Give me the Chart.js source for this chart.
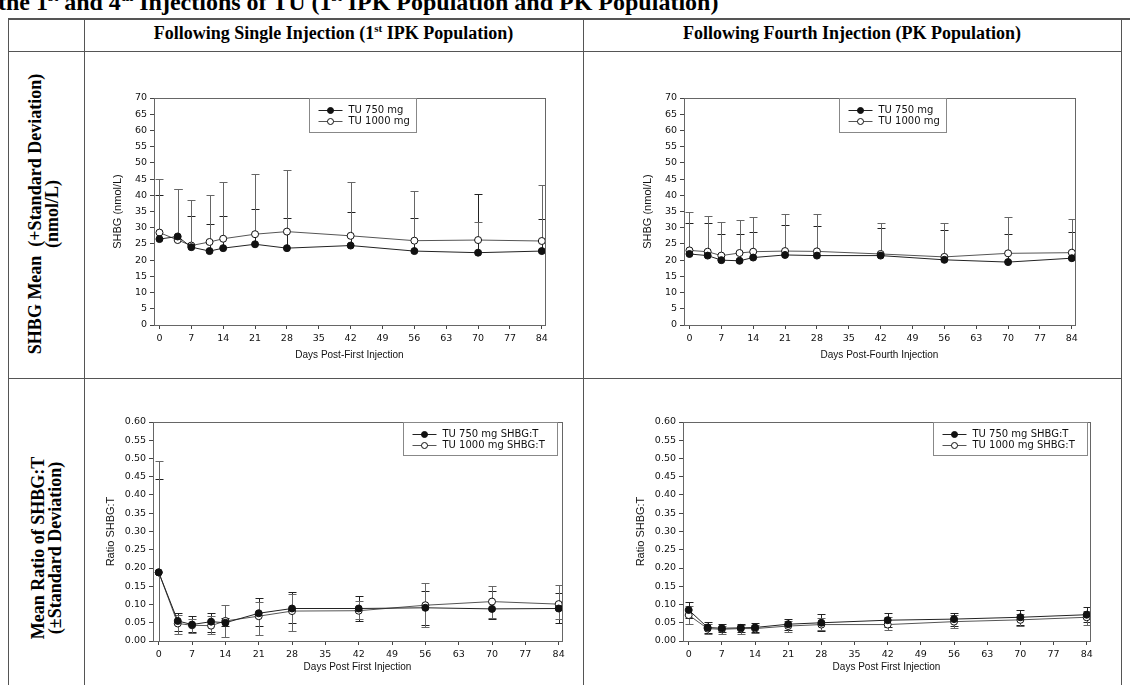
<!DOCTYPE html>
<html>
<head>
<meta charset="utf-8">
<script src="https://cdn.jsdelivr.net/npm/chart.js@4.4.0/dist/chart.umd.min.js"></script>
<style>
  body { margin: 0; width: 1130px; height: 685px; overflow: hidden; background: #fff; position: relative; font-family: "Liberation Serif", serif; color: #000; }
  .title { position: absolute; left: -2px; top: -10px; font-weight: bold; font-size: 24px; line-height: 24px; white-space: nowrap; }
  .title sup { font-size: 14px; vertical-align: 9px; }
  .line { position: absolute; background: #555; }
  .head { position: absolute; top: 24px; font-weight: bold; font-size: 18px; line-height: 18px; text-align: center; white-space: nowrap; }
  .rowlab { position: absolute; font-weight: bold; font-size: 18px; line-height: 17px; text-align: center; white-space: nowrap; transform: translate(-50%, -50%) rotate(-90deg); }
  sup { font-size: 11px; line-height: 0; vertical-align: 7px; }
  canvas { position: absolute; }
</style>
</head>
<body>
<div class="title">the 1<sup>st</sup> and 4<sup>th</sup> Injections of TU (1<sup>st</sup> IPK Population and PK Population)</div>

<div class="line" style="left:8px; top:18px; width:1122px; height:2px;"></div>
<div class="line" style="left:8px; top:51px; width:1114px; height:1px;"></div>
<div class="line" style="left:8px; top:378px; width:1114px; height:1px;"></div>
<div class="line" style="left:8px; top:18px; width:1px; height:667px;"></div>
<div class="line" style="left:84px; top:18px; width:1px; height:667px;"></div>
<div class="line" style="left:583px; top:18px; width:1px; height:667px;"></div>
<div class="line" style="left:1121px; top:18px; width:1px; height:667px;"></div>

<div class="head" style="left:84px; width:499px;">Following Single Injection (1<sup>st</sup> IPK Population)</div>
<div class="head" style="left:583px; width:538px;">Following Fourth Injection (PK Population)</div>

<div class="rowlab" style="left:44px; top:214px;">SHBG Mean&nbsp; (+Standard Deviation)<br>(nmol/L)</div>
<div class="rowlab" style="left:47px; top:548px;">Mean Ratio of SHBG:T<br>(±Standard Deviation)</div>

<canvas id="c1"></canvas>
<canvas id="c2"></canvas>
<canvas id="c3"></canvas>
<canvas id="c4"></canvas>

<script>
// sampling days (same for every panel)
const days = [0, 4, 7, 11, 14, 21, 28, 42, 56, 70, 84];
const xTicks = [0, 7, 14, 21, 28, 35, 42, 49, 56, 63, 70, 77, 84];
const shbgTicks = [0, 5, 10, 15, 20, 25, 30, 35, 40, 45, 50, 55, 60, 65, 70];
const ratioTicks = [0, 0.05, 0.1, 0.15, 0.2, 0.25, 0.3, 0.35, 0.4, 0.45, 0.5, 0.55, 0.6];

// SHBG after single injection (nmol/L), mean and mean+SD
const shbg1Mean750 = [26.5, 27.3, 24.0, 22.8, 23.7, 24.9, 23.7, 24.5, 22.8, 22.3, 22.8];
const shbg1Mean1000 = [28.5, 26.2, 24.5, 25.6, 26.6, 28.0, 28.8, 27.5, 26.0, 26.2, 25.9];
const shbg1Hi750 = [40.0, 41.8, 33.7, 31.0, 33.5, 35.8, 33.0, 34.7, 33.0, 40.3, 32.8];
const shbg1Hi1000 = [45.0, 42.0, 38.5, 40.2, 44.2, 46.7, 47.9, 44.2, 41.4, 31.9, 43.2];

// SHBG after fourth injection
const shbg4Mean750 = [21.9, 21.4, 20.0, 19.8, 20.8, 21.6, 21.4, 21.4, 20.1, 19.4, 20.6];
const shbg4Mean1000 = [23.0, 22.6, 21.4, 22.2, 22.6, 22.8, 22.7, 21.9, 21.0, 22.1, 22.3];
const shbg4Hi750 = [31.5, 31.3, 28.0, 28.0, 28.8, 30.7, 30.6, 29.9, 29.2, 28.0, 28.8];
const shbg4Hi1000 = [34.7, 33.7, 31.9, 32.4, 33.3, 34.1, 34.1, 31.6, 31.3, 33.4, 32.8];

// SHBG:T ratio after single injection, mean and mean±SD
const ratio1Mean750 = [0.188, 0.055, 0.045, 0.053, 0.050, 0.076, 0.089, 0.089, 0.091, 0.088, 0.089];
const ratio1Mean1000 = [0.188, 0.048, 0.043, 0.042, 0.055, 0.068, 0.082, 0.083, 0.098, 0.108, 0.101];
const ratio1Hi750 = [0.445, 0.078, 0.068, 0.077, 0.062, 0.117, 0.134, 0.123, 0.137, 0.137, 0.131];
const ratio1Lo750 = [-0.069, 0.028, 0.025, 0.025, 0.040, 0.041, 0.050, 0.055, 0.045, 0.059, 0.050];
const ratio1Hi1000 = [0.494, 0.070, 0.060, 0.068, 0.099, 0.106, 0.130, 0.109, 0.158, 0.152, 0.154];
const ratio1Lo1000 = [-0.118, 0.019, 0.022, 0.020, 0.012, 0.016, 0.028, 0.060, 0.039, 0.064, 0.059];

// SHBG:T ratio after fourth injection
const ratio4Mean750 = [0.085, 0.037, 0.035, 0.036, 0.037, 0.046, 0.050, 0.057, 0.060, 0.065, 0.072];
const ratio4Mean1000 = [0.071, 0.034, 0.032, 0.034, 0.034, 0.041, 0.045, 0.045, 0.053, 0.058, 0.065];
const ratio4Hi750 = [0.108, 0.051, 0.046, 0.046, 0.048, 0.061, 0.073, 0.077, 0.078, 0.085, 0.092];
const ratio4Lo750 = [0.062, 0.023, 0.024, 0.026, 0.026, 0.031, 0.027, 0.037, 0.042, 0.045, 0.052];
const ratio4Hi1000 = [0.095, 0.046, 0.042, 0.044, 0.045, 0.054, 0.062, 0.065, 0.070, 0.075, 0.082];
const ratio4Lo1000 = [0.047, 0.019, 0.018, 0.020, 0.021, 0.025, 0.030, 0.031, 0.035, 0.040, 0.045];

const tickFont = { family: "DejaVu Sans", size: 9.5 };
const xTitleFont = { family: "Liberation Sans", size: 10 };
const yTitleFont = { family: "Liberation Sans", size: 11 };
const axisColor = "#444";

const frame = {
  id: "frame",
  beforeDatasetsDraw(chart) {
    const { ctx, chartArea: a } = chart;
    ctx.save();
    ctx.strokeStyle = "#666";
    ctx.lineWidth = 1;
    ctx.strokeRect(Math.round(a.left) + 0.5, Math.round(a.top) + 0.5, Math.round(a.width), Math.round(a.height));
    ctx.restore();
  },
};

const errorBars = {
  id: "errorBars",
  beforeDatasetsDraw(chart) {
    const { ctx, chartArea: a, scales: { x, y } } = chart;
    ctx.save();
    ctx.beginPath();
    ctx.rect(a.left, a.top - 2, a.width, a.height + 2);
    ctx.clip();
    ctx.lineWidth = 1;
    chart.data.datasets.forEach((ds) => {
      ctx.strokeStyle = ds.errColor;
      ds.data.forEach((p, i) => {
        const px = Math.round(x.getPixelForValue(p.x)) + 0.5;
        const py = y.getPixelForValue(p.y);
        [ds.errHi, ds.errLo].forEach((arr) => {
          if (!arr) return;
          const ey = Math.round(y.getPixelForValue(arr[i])) + 0.5;
          ctx.beginPath();
          ctx.moveTo(px, py);
          ctx.lineTo(px, ey);
          ctx.moveTo(px - 4, ey);
          ctx.lineTo(px + 4, ey);
          ctx.stroke();
        });
      });
    });
    ctx.restore();
  },
};

const boxLegend = {
  id: "boxLegend",
  afterDraw(chart, args, opts) {
    const { ctx, chartArea: a } = chart;
    const x0 = Math.round(a.left + opts.offsetX) + 0.5;
    const y0 = Math.round(a.top) + 0.5;
    ctx.save();
    ctx.fillStyle = "#fff";
    ctx.fillRect(x0, y0, opts.width, opts.height);
    ctx.strokeStyle = "#888";
    ctx.lineWidth = 1;
    ctx.strokeRect(x0, y0, opts.width, opts.height);
    chart.data.datasets.forEach((ds, i) => {
      const ly = Math.round(y0 + 11 + i * 11) + 0.5;
      ctx.strokeStyle = ds.borderColor;
      ctx.beginPath();
      ctx.moveTo(x0 + 9, ly);
      ctx.lineTo(x0 + 33, ly);
      ctx.stroke();
      ctx.beginPath();
      ctx.arc(x0 + 21, ly, 3, 0, Math.PI * 2);
      ctx.fillStyle = ds.pointBackgroundColor;
      ctx.fill();
      ctx.strokeStyle = ds.pointBorderColor;
      ctx.stroke();
      ctx.fillStyle = "#111";
      ctx.font = '10px "DejaVu Sans"';
      ctx.textBaseline = "middle";
      ctx.fillText(ds.label, x0 + 39, ly);
    });
    ctx.restore();
  },
};

const series = (label, means, hi, lo, filled) => ({
  label: label,
  data: days.map((d, i) => ({ x: d, y: means[i] })),
  errHi: hi,
  errLo: lo,
  errColor: filled ? "#222" : "#666",
  borderColor: filled ? "#222" : "#555",
  borderWidth: 1,
  pointRadius: 3.5,
  pointBorderWidth: 1,
  pointBackgroundColor: filled ? "#111" : "#fff",
  pointBorderColor: "#111",
  tension: 0,
});

// plot: chart area rectangle on the page; yW / xH: axis band sizes
const makeChart = (id, plot, yW, xH, yTicks, yMax, yTitle, xTitle, fmt, legend, datasets) => {
  const padTop = 20;
  const padRight = 20;
  const left = plot.L - yW;
  const top = plot.T - padTop;
  const width = plot.R + padRight - left;
  const height = plot.B + xH - top;
  const el = document.getElementById(id);
  el.style.left = left + "px";
  el.style.top = top + "px";
  el.style.width = width + "px";
  el.style.height = height + "px";
  el.width = width;
  el.height = height;

  new Chart(el.getContext("2d"), {
    type: "line",
    data: { datasets: datasets },
    options: {
      responsive: false,
      animation: false,
      devicePixelRatio: 1,
      layout: { padding: { top: padTop, right: padRight, left: 0, bottom: 0 } },
      plugins: {
        legend: { display: false },
        tooltip: { enabled: false },
        boxLegend: legend,
      },
      scales: {
        x: {
          type: "linear",
          min: -1.2,
          max: 84.7,
          afterBuildTicks: (s) => { s.ticks = xTicks.map((v) => ({ value: v })); },
          afterFit: (s) => { s.height = xH; },
          grid: { drawOnChartArea: false, drawTicks: true, tickLength: 4, color: axisColor },
          border: { display: true, color: axisColor },
          ticks: { padding: 4, font: tickFont, color: "#111", maxRotation: 0, autoSkip: false },
          title: { display: true, text: xTitle, font: xTitleFont, color: "#111", padding: { top: 0, bottom: 0 } },
        },
        y: {
          type: "linear",
          min: 0,
          max: yMax,
          afterBuildTicks: (s) => { s.ticks = yTicks.map((v) => ({ value: v })); },
          afterFit: (s) => { s.width = yW; },
          grid: { drawOnChartArea: false, drawTicks: true, tickLength: 4, color: axisColor },
          border: { display: true, color: axisColor },
          ticks: { padding: 3, font: tickFont, color: "#111", callback: fmt, autoSkip: false },
          title: { display: true, text: yTitle, font: yTitleFont, color: "#111", padding: { top: 1, bottom: 0 } },
        },
      },
    },
    plugins: [frame, errorBars, boxLegend],
  });
};

const plain = (v) => String(v);
const two = (v) => v.toFixed(2);

makeChart("c1", { L: 154, T: 98, R: 545, B: 325 }, 44, 36, shbgTicks, 70,
  "SHBG (nmol/L)", "Days Post-First Injection", plain,
  { offsetX: 155, width: 107, height: 34 },
  [
    series("TU 750 mg", shbg1Mean750, shbg1Hi750, null, true),
    series("TU 1000 mg", shbg1Mean1000, shbg1Hi1000, null, false),
  ]);

makeChart("c2", { L: 684, T: 98, R: 1075, B: 325 }, 44, 36, shbgTicks, 70,
  "SHBG (nmol/L)", "Days Post-Fourth Injection", plain,
  { offsetX: 155, width: 107, height: 34 },
  [
    series("TU 750 mg", shbg4Mean750, shbg4Hi750, null, true),
    series("TU 1000 mg", shbg4Mean1000, shbg4Hi1000, null, false),
  ]);

makeChart("c3", { L: 153, T: 422, R: 562, B: 641 }, 50, 32, ratioTicks, 0.6,
  "Ratio SHBG:T", "Days Post First Injection", two,
  { offsetX: 250, width: 154, height: 33 },
  [
    series("TU 750 mg SHBG:T", ratio1Mean750, ratio1Hi750, ratio1Lo750, true),
    series("TU 1000 mg SHBG:T", ratio1Mean1000, ratio1Hi1000, ratio1Lo1000, false),
  ]);

makeChart("c4", { L: 683, T: 422, R: 1090, B: 641 }, 50, 32, ratioTicks, 0.6,
  "Ratio SHBG:T", "Days Post First Injection", two,
  { offsetX: 250, width: 154, height: 33 },
  [
    series("TU 750 mg SHBG:T", ratio4Mean750, ratio4Hi750, ratio4Lo750, true),
    series("TU 1000 mg SHBG:T", ratio4Mean1000, ratio4Hi1000, ratio4Lo1000, false),
  ]);
</script>
</body>
</html>
